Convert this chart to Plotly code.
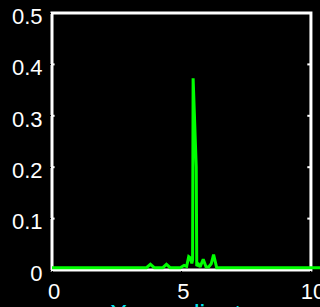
import plotly.graph_objects as go

x_vals = [0, 3.65, 3.80, 3.95, 4.28, 4.42, 4.56, 4.95, 5.10, 5.20, 5.28, 5.33, 5.40, 5.43,
          5.45, 5.57, 5.59, 5.66, 5.72, 5.84, 5.95, 6.05, 6.15, 6.24, 6.36, 10.4]
y_vals = [0.0045, 0.0045, 0.011, 0.0045, 0.0045, 0.011, 0.0045, 0.0045, 0.009, 0.007, 0.026,
          0.024, 0.013, 0.02, 0.373, 0.2, 0.008, 0.011, 0.006, 0.021, 0.006, 0.006, 0.012,
          0.030, 0.0045, 0.0045]
x_ticks = [0, 5, 10]
y_ticks = [0, 0.1, 0.2, 0.3, 0.4, 0.5]
y_tick_labels = ["0", "0.1", "0.2", "0.3", "0.4", "0.5"]
x_label = "X coordinate"

X_MAX = 10.35
fig = go.Figure()
fig.add_trace(go.Scatter(x=x_vals, y=y_vals, mode="lines",
                         line=dict(color="#00ff00", width=3), showlegend=False))

xr = 10 / X_MAX
shapes = [dict(type="rect", xref="paper", yref="paper", x0=0, x1=xr, y0=0, y1=1,
               line=dict(color="white", width=3), layer="below")]
for t in y_ticks[1:-1]:
    shapes.append(dict(type="line", xref="x", yref="y", x0=9.86, x1=10, y0=t, y1=t,
                       line=dict(color="white", width=2)))
    shapes.append(dict(type="line", xref="x", yref="y", x0=0, x1=0.1, y0=t, y1=t,
                       line=dict(color="white", width=2)))

fig.update_layout(
    width=320, height=307,
    margin=dict(l=52, r=0, t=13, b=37),
    paper_bgcolor="black", plot_bgcolor="black",
    font=dict(family="Liberation Sans, Arial", size=22, color="white"),
    xaxis=dict(range=[0, X_MAX], tickvals=x_ticks, ticktext=[str(v) for v in x_ticks],
               showgrid=False, zeroline=False, showline=False, automargin=False,
               ticklabeloverflow="allow", ticklabelshift=2,
               ticks="outside", ticklen=2, tickcolor="black"),
    yaxis=dict(range=[0, 0.5], tickvals=y_ticks, ticktext=y_tick_labels,
               showgrid=False, zeroline=False, showline=False, automargin=False,
               ticklabeloverflow="allow", ticklabelshift=3,
               ticks="outside", ticklen=4, tickcolor="black"),
    shapes=shapes,
    annotations=[dict(text=x_label, xref="paper", yref="paper", x=0.21, y=-0.107,
                      xanchor="left", yanchor="top", showarrow=False,
                      font=dict(color="#00e5ee", size=26))],
)
fig.write_html(
    "out.html",
    config={"displayModeBar": False},
    post_script="document.body.style.margin='0';document.body.style.background='black';"
                "document.body.style.overflow='hidden';",
)
